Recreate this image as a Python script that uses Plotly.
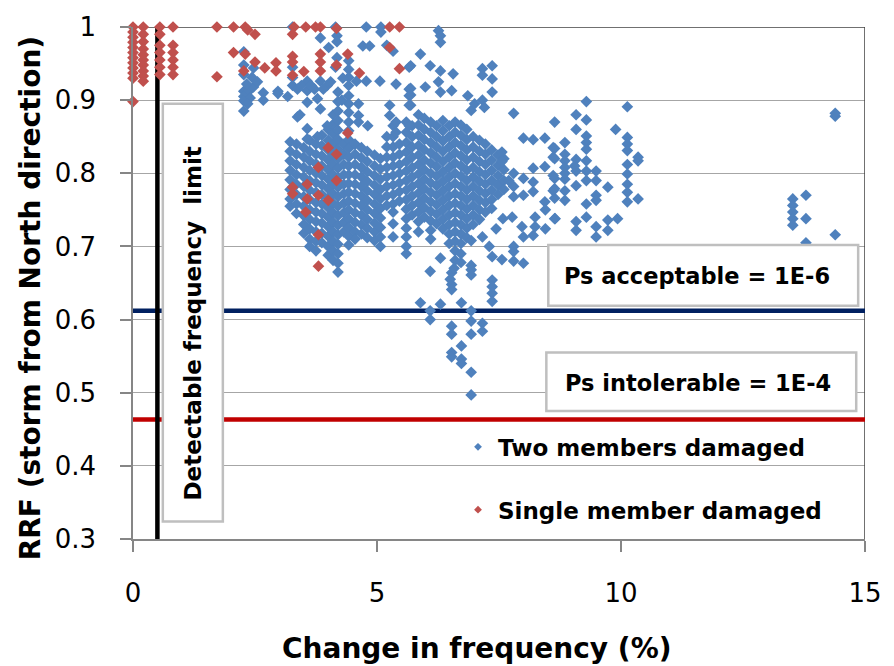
import plotly.graph_objects as go

# ---------------- data ----------------
# Two members damaged: dense vertical columns (x, list of RRF values)
two_member_columns = [
    (3.22, [0.843, 0.83, 0.817, 0.804, 0.791, 0.778, 0.765, 0.755]),
    (3.35, [0.84, 0.826, 0.812, 0.798, 0.785, 0.771, 0.758, 0.745]),
    (3.5, [0.835, 0.822, 0.808, 0.795, 0.782, 0.768, 0.755, 0.742, 0.73, 0.718]),
    (3.62, [0.845, 0.83, 0.817, 0.804, 0.79, 0.777, 0.764, 0.75, 0.737, 0.724, 0.71, 0.70]),
    (3.75, [0.84, 0.826, 0.813, 0.8, 0.787, 0.774, 0.76, 0.747, 0.734, 0.72, 0.707, 0.694]),
    (3.87, [0.852, 0.838, 0.824, 0.81, 0.797, 0.784, 0.771, 0.758, 0.745, 0.732, 0.718, 0.705]),
    (4.0, [0.86, 0.845, 0.832, 0.818, 0.805, 0.792, 0.779, 0.766, 0.753, 0.74, 0.727, 0.714, 0.70, 0.688]),
    (4.1, [0.88, 0.867, 0.854, 0.84, 0.826, 0.812, 0.798, 0.785, 0.772, 0.759, 0.746, 0.733, 0.72, 0.707, 0.694, 0.681]),
    (4.2, [0.911, 0.898, 0.885, 0.872, 0.859, 0.846, 0.833, 0.82, 0.807, 0.794, 0.781, 0.768, 0.755, 0.742, 0.729, 0.716, 0.703, 0.69, 0.677, 0.665]),
    (4.32, [0.84, 0.826, 0.812, 0.798, 0.785, 0.772, 0.759, 0.746, 0.733, 0.72]),
    (4.42, [0.954, 0.942, 0.931, 0.92, 0.906, 0.895, 0.883, 0.87, 0.858, 0.846, 0.834, 0.822, 0.81, 0.798, 0.786, 0.774, 0.762, 0.75, 0.738, 0.726, 0.714, 0.702]),
    (4.55, [0.84, 0.826, 0.812, 0.798, 0.785, 0.772, 0.759, 0.746, 0.733, 0.72, 0.71]),
    (4.68, [0.835, 0.821, 0.808, 0.795, 0.782, 0.769, 0.756, 0.743, 0.73, 0.717]),
    (4.8, [0.83, 0.816, 0.802, 0.789, 0.776, 0.763, 0.75, 0.737, 0.725, 0.712]),
    (4.95, [0.825, 0.81, 0.797, 0.784, 0.771, 0.758, 0.745, 0.732, 0.72, 0.708]),
    (5.07, [0.82, 0.806, 0.792, 0.778, 0.765, 0.752, 0.739, 0.726, 0.713, 0.70]),
    (5.2, [0.85, 0.836, 0.822, 0.808, 0.795, 0.782, 0.769, 0.756]),
    (5.33, [0.865, 0.85, 0.836, 0.822, 0.81, 0.797, 0.784, 0.771, 0.758, 0.747, 0.731, 0.713]),
    (5.46, [0.84, 0.826, 0.812, 0.8, 0.787, 0.775, 0.762]),
    (5.6, [0.87, 0.856, 0.842, 0.829, 0.816, 0.803, 0.79, 0.777, 0.764, 0.751, 0.738, 0.725, 0.713, 0.70, 0.69]),
    (5.72, [0.865, 0.85, 0.836, 0.822, 0.808, 0.795, 0.782, 0.769, 0.756, 0.743]),
    (5.85, [0.88, 0.866, 0.852, 0.838, 0.825, 0.812, 0.799, 0.786, 0.773, 0.76, 0.747, 0.734, 0.72]),
    (5.97, [0.875, 0.86, 0.846, 0.832, 0.818, 0.805, 0.792, 0.779, 0.766, 0.753, 0.74]),
    (6.1, [0.87, 0.856, 0.842, 0.828, 0.814, 0.8, 0.787, 0.774, 0.761, 0.748, 0.735, 0.722, 0.71]),
    (6.22, [0.865, 0.85, 0.836, 0.822, 0.809, 0.796, 0.783, 0.77, 0.757, 0.744, 0.731]),
    (6.35, [0.872, 0.858, 0.844, 0.83, 0.816, 0.802, 0.789, 0.776, 0.763, 0.75, 0.737, 0.724]),
    (6.48, [0.865, 0.85, 0.836, 0.822, 0.808, 0.795, 0.782, 0.769, 0.756, 0.743, 0.73, 0.717, 0.704]),
    (6.6, [0.87, 0.856, 0.842, 0.828, 0.814, 0.8, 0.786, 0.772, 0.759, 0.746, 0.733, 0.72, 0.707, 0.694, 0.681]),
    (6.72, [0.866, 0.852, 0.838, 0.824, 0.81, 0.796, 0.782, 0.769, 0.756, 0.743, 0.73, 0.717, 0.704, 0.69, 0.678]),
    (6.84, [0.86, 0.846, 0.832, 0.818, 0.804, 0.79, 0.777, 0.764, 0.751, 0.738, 0.725, 0.712]),
    (6.97, [0.85, 0.836, 0.822, 0.808, 0.795, 0.782, 0.769, 0.756, 0.743, 0.73]),
    (7.1, [0.845, 0.83, 0.816, 0.802, 0.789, 0.776, 0.763, 0.75, 0.737]),
    (7.22, [0.84, 0.826, 0.812, 0.798, 0.785, 0.772, 0.76, 0.747]),
    (7.35, [0.832, 0.818, 0.804, 0.79, 0.777, 0.764, 0.752]),
    (7.48, [0.825, 0.811, 0.797, 0.784, 0.771]),
    (7.6, [0.82, 0.805, 0.79, 0.778]),
]

# Two members damaged: scattered points (x, RRF)
two_member_points = [
    (2.27, 0.966), (2.27, 0.948), (2.27, 0.935), (2.47, 0.944), (2.44, 0.931), (2.27, 0.912),
    (2.37, 0.912), (2.47, 0.918), (2.27, 0.905), (2.4, 0.903), (2.67, 0.91), (2.67, 0.90),
    (2.97, 0.912), (2.27, 0.899), (2.27, 0.885), (2.33, 0.922), (2.55, 0.925), (2.35, 0.895),
    (3.27, 1.0), (3.27, 0.945), (3.27, 0.931), (3.27, 0.92), (3.17, 0.905), (2.97, 0.909),
    (3.37, 0.877), (3.57, 0.926), (3.57, 0.913), (3.57, 0.897), (3.84, 0.926), (3.98, 0.92),
    (3.78, 0.902), (3.72, 0.915), (4.01, 0.972), (4.15, 1.0), (4.18, 0.988), (4.18, 0.98),
    (4.18, 0.958), (4.15, 0.945), (3.84, 0.985), (4.71, 0.974), (4.85, 0.974), (4.78, 1.0),
    (5.08, 1.0), (5.08, 0.993), (5.2, 0.975), (5.33, 0.967), (5.66, 0.945), (4.58, 0.926),
    (4.78, 0.926), (5.06, 0.926), (5.39, 0.922), (5.66, 0.915), (5.66, 0.906), (5.66, 0.893),
    (4.62, 0.895), (4.62, 0.879), (4.62, 0.87), (4.81, 0.865), (5.26, 0.893), (5.26, 0.879),
    (5.39, 0.87), (5.39, 0.856), (5.66, 0.865), (4.28, 0.9), (4.3, 0.93), (3.42, 0.88),
    (3.37, 0.915), (3.45, 0.92), (3.65, 0.92), (3.9, 0.915), (4.05, 0.925), (3.57, 0.861),
    (3.78, 0.85), (3.98, 0.865), (3.57, 0.847), (3.84, 0.888),
    (6.26, 0.995), (6.3, 0.988), (6.3, 0.979), (5.89, 0.963), (5.69, 0.947), (6.09, 0.947),
    (6.3, 0.94), (6.56, 0.936), (6.26, 0.925), (6.3, 0.911), (5.99, 0.918), (6.53, 0.913),
    (6.86, 0.906), (7.16, 0.943), (7.16, 0.934), (7.36, 0.947), (7.36, 0.929), (7.36, 0.911),
    (7.16, 0.900), (6.93, 0.886), (5.69, 0.916), (5.69, 0.907), (5.69, 0.893), (7.80, 0.882),
    (7.0, 0.895), (7.2, 0.89),
    (8.64, 0.870), (8.0, 0.848), (8.2, 0.846), (8.44, 0.848), (8.64, 0.834), (8.64, 0.820),
    (8.2, 0.807), (8.44, 0.809), (8.0, 0.793), (7.80, 0.782), (7.80, 0.768), (8.0, 0.770),
    (8.2, 0.788), (8.2, 0.775), (8.44, 0.761), (8.64, 0.793), (8.64, 0.779), (8.64, 0.766),
    (7.56, 0.829), (7.56, 0.816), (7.8, 0.80), (7.7, 0.79),
    (9.29, 0.898), (10.13, 0.891), (9.08, 0.880), (9.29, 0.873), (9.08, 0.860), (9.89, 0.860),
    (8.85, 0.842), (9.29, 0.851), (9.29, 0.842), (9.29, 0.833), (10.13, 0.849), (10.13, 0.840),
    (10.13, 0.831), (10.35, 0.822), (10.35, 0.817), (10.13, 0.812), (8.85, 0.826), (8.85, 0.817),
    (8.85, 0.808), (8.61, 0.835), (8.61, 0.822), (9.08, 0.819), (9.08, 0.803), (9.29, 0.817),
    (9.29, 0.803), (9.29, 0.79), (9.49, 0.803), (9.49, 0.790), (8.61, 0.797), (8.61, 0.776),
    (8.85, 0.792), (9.08, 0.783), (9.73, 0.781), (8.85, 0.776), (8.85, 0.763), (9.49, 0.770),
    (9.49, 0.763), (10.13, 0.799), (10.13, 0.785), (10.13, 0.774), (10.13, 0.761), (10.35, 0.765),
    (9.29, 0.758), (9.29, 0.74), (8.64, 0.738), (9.08, 0.734), (9.08, 0.722), (9.49, 0.727),
    (9.49, 0.713), (9.73, 0.736), (9.73, 0.722), (9.93, 0.738), (9.05, 0.81), (8.85, 0.80),
    (7.58, 0.738), (7.44, 0.724), (7.77, 0.740), (7.97, 0.727), (8.24, 0.740), (8.24, 0.727),
    (8.45, 0.724), (8.65, 0.738), (8.0, 0.713), (8.2, 0.715), (8.45, 0.75), (7.16, 0.713),
    (6.93, 0.708), (7.36, 0.686), (7.56, 0.682), (7.80, 0.693), (7.80, 0.680), (8.0, 0.677),
    (7.8, 0.70), (7.3, 0.70),
    (6.09, 0.666), (6.53, 0.664), (6.53, 0.648), (6.53, 0.641), (6.93, 0.674), (6.93, 0.668),
    (6.93, 0.661), (7.36, 0.654), (7.36, 0.645), (7.36, 0.636), (7.36, 0.625), (6.30, 0.684),
    (5.89, 0.623), (6.09, 0.612), (6.09, 0.600), (6.30, 0.621), (6.73, 0.623), (6.93, 0.612),
    (6.93, 0.598), (7.16, 0.595), (7.16, 0.584), (6.53, 0.591), (6.53, 0.580), (6.93, 0.580),
    (6.73, 0.564), (6.53, 0.555), (6.53, 0.549), (6.73, 0.546), (6.73, 0.540), (6.93, 0.528),
    (6.93, 0.497), (6.5, 0.655), (6.58, 0.67),
    (14.39, 0.878), (14.39, 0.882), (13.79, 0.770), (13.52, 0.765), (13.52, 0.756), (13.52, 0.747),
    (13.52, 0.738), (13.52, 0.729), (13.79, 0.738), (14.39, 0.716), (13.79, 0.705),
]

# Single member damaged: columns near zero and scattered points
single_member_columns = [
    (0.0, [1.0, 0.993, 0.986, 0.979, 0.972, 0.965, 0.958, 0.951, 0.944, 0.937, 0.93, 0.898]),
    (0.21, [1.0, 0.99, 0.98, 0.97, 0.962, 0.955, 0.948, 0.94, 0.933, 0.926]),
    (0.55, [1.0, 0.99, 0.975, 0.965, 0.955, 0.945, 0.935]),
    (0.82, [1.0, 0.975, 0.965, 0.955, 0.945, 0.935]),
]
single_member_points = [
    (1.72, 1.0), (1.72, 0.932), (2.06, 1.0), (2.3, 1.0), (2.35, 0.996), (2.5, 0.99), (2.06, 0.965),
    (2.3, 0.963), (2.5, 0.952), (2.27, 0.94), (2.7, 0.944), (2.93, 0.951), (2.93, 0.94),
    (3.3, 1.0), (3.54, 1.0), (3.74, 1.0), (3.84, 1.0), (4.17, 0.998), (5.26, 1.0), (5.46, 1.0),
    (3.27, 0.99), (5.26, 0.972), (3.27, 0.96), (3.27, 0.952), (3.84, 0.963), (3.84, 0.952),
    (4.17, 0.948), (4.4, 0.963), (3.27, 0.934), (3.5, 0.939), (3.84, 0.94), (4.64, 0.937),
    (5.46, 0.943),
    (4.4, 0.855), (4.0, 0.835), (4.17, 0.826), (3.8, 0.808), (4.17, 0.79), (3.27, 0.781),
    (3.27, 0.772), (3.57, 0.785), (3.8, 0.77), (3.57, 0.765), (4.0, 0.763), (3.54, 0.747),
    (3.8, 0.716), (3.8, 0.673),
]

detectable_limit = 0.5          # % change in frequency
rrf_acceptable = 0.612          # Ps acceptable = 1E-6
rrf_intolerable = 0.4635        # Ps intolerable = 1E-4

x_ticks = [0, 5, 10, 15]
x_tick_labels = ["0", "5", "10", "15"]
y_ticks = [0.3, 0.4, 0.5, 0.6, 0.7, 0.8, 0.9, 1.0]
y_tick_labels = ["0.3", "0.4", "0.5", "0.6", "0.7", "0.8", "0.9", "1"]


def flatten(columns, points):
    xs, ys = [], []
    for cx, cys in columns:
        for cy in cys:
            xs.append(cx)
            ys.append(cy)
    for px, py in points:
        xs.append(px)
        ys.append(py)
    return xs, ys


blue_x, blue_y = flatten(two_member_columns, two_member_points)
red_x, red_y = flatten(single_member_columns, single_member_points)

BLUE = "#4F81BD"
RED = "#C0504D"
FONT = "DejaVu Sans"

fig = go.Figure()

# reference lines
fig.add_trace(go.Scatter(x=[0, 15], y=[rrf_acceptable, rrf_acceptable], mode="lines",
                         line=dict(color="#002060", width=4.5), showlegend=False, hoverinfo="skip"))
fig.add_trace(go.Scatter(x=[0, 15], y=[rrf_intolerable, rrf_intolerable], mode="lines",
                         line=dict(color="#C00000", width=4.5), showlegend=False, hoverinfo="skip"))
fig.add_trace(go.Scatter(x=[detectable_limit, detectable_limit], y=[0.3, 1.0], mode="lines",
                         line=dict(color="black", width=4.5), showlegend=False, hoverinfo="skip"))

# data
fig.add_trace(go.Scatter(x=blue_x, y=blue_y, mode="markers", cliponaxis=False,
                         marker=dict(symbol="diamond", size=9, color=BLUE, line=dict(width=0)),
                         showlegend=False))
fig.add_trace(go.Scatter(x=red_x, y=red_y, mode="markers", cliponaxis=False,
                         marker=dict(symbol="diamond", size=9, color=RED, line=dict(width=0)),
                         showlegend=False))

# legend entries (small markers like the original)
fig.add_trace(go.Scatter(x=[None], y=[None], mode="markers", name="<b>Two members damaged</b>",
                         legendgroup="a",
                         marker=dict(symbol="diamond", size=6, color=BLUE)))
fig.add_trace(go.Scatter(x=[None], y=[None], mode="markers", name="<b>Single member damaged</b>",
                         legendgroup="b",
                         marker=dict(symbol="diamond", size=6, color=RED)))

shapes = [
    # plot border top & right
    dict(type="line", xref="x", yref="y", x0=0, x1=15, y0=1.0, y1=1.0,
         line=dict(color="#404040", width=1.5), layer="between"),
    dict(type="line", xref="x", yref="y", x0=15, x1=15, y0=0.3, y1=1.0,
         line=dict(color="#404040", width=1.5), layer="between"),
    # text boxes
    dict(type="rect", xref="x", yref="y", x0=0.611, x1=1.841, y0=0.324, y1=0.895,
         fillcolor="white", line=dict(color="#BFBFBF", width=2.5), layer="above"),
    dict(type="rect", xref="x", yref="y", x0=8.51, x1=14.86, y0=0.619, y1=0.702,
         fillcolor="white", line=dict(color="#BFBFBF", width=2.5), layer="above"),
    dict(type="rect", xref="x", yref="y", x0=8.47, x1=14.82, y0=0.475, y1=0.555,
         fillcolor="white", line=dict(color="#BFBFBF", width=2.5), layer="above"),
]

annotations = [
    dict(xref="x", yref="y", x=1.236, y=0.595, text="<b>Detectable frequency\u00a0 limit</b>",
         textangle=-90, showarrow=False, font=dict(family=FONT, size=23, color="black"),
         xanchor="center", yanchor="middle"),
    dict(xref="x", yref="y", x=11.56, y=0.659, text="<b>Ps acceptable = 1E-6</b>",
         showarrow=False, font=dict(family=FONT, size=22.5, color="black"),
         xanchor="center", yanchor="middle"),
    dict(xref="x", yref="y", x=11.58, y=0.513, text="<b>Ps intolerable = 1E-4</b>",
         showarrow=False, font=dict(family=FONT, size=22.5, color="black"),
         xanchor="center", yanchor="middle"),
    dict(xref="paper", yref="paper", x=-0.1407, y=0.47, text="<b>RRF (storm from North direction)</b>",
         textangle=-90, showarrow=False, font=dict(family=FONT, size=28, color="black"),
         xanchor="center", yanchor="middle"),
    dict(xref="paper", yref="paper", x=0.47, y=-0.213, text="<b>Change in frequency (%)</b>",
         showarrow=False, font=dict(family=FONT, size=28, color="black"),
         xanchor="center", yanchor="middle"),
]

fig.update_layout(
    width=894, height=666,
    margin=dict(l=132.7, r=17.3, t=20.7, b=127.3),
    paper_bgcolor="white", plot_bgcolor="white",
    font=dict(family=FONT, color="black"),
    shapes=shapes, annotations=annotations,
    showlegend=True,
    legend=dict(x=0.444, y=0.222, xanchor="left", yanchor="top",
                bgcolor="rgba(0,0,0,0)", font=dict(family=FONT, size=23, color="black"),
                tracegroupgap=30),
    xaxis=dict(range=[0, 15], tickvals=x_ticks, ticktext=x_tick_labels, ticks="outside",
               ticklen=11, tickwidth=1.5, tickcolor="#868686", showline=True, linecolor="#868686",
               linewidth=1.5, showgrid=False, zeroline=False, ticklabelstandoff=19,
               tickfont=dict(family=FONT, size=26, color="black")),
    yaxis=dict(range=[0.3, 1.0], tickvals=y_ticks, ticktext=y_tick_labels, ticks="outside",
               ticklen=11, tickwidth=1.5, tickcolor="#868686", showline=True, linecolor="#868686",
               linewidth=1.5, showgrid=True, gridcolor="#A6A6A6", gridwidth=1.3, zeroline=False,
               ticklabelstandoff=19, tickfont=dict(family=FONT, size=26, color="black")),
)

fig.write_html("out.html")
